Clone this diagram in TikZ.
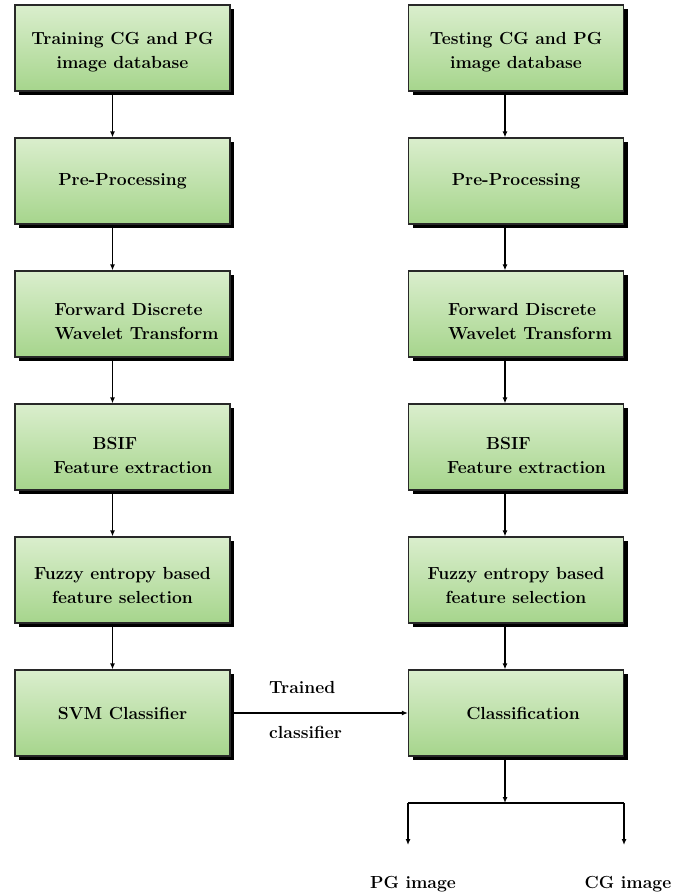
\documentclass[tikz,border=0pt]{standalone}
\usepackage{xcolor}
\usepackage{tikz}
\usetikzlibrary{arrows.meta}
\usetikzlibrary{shadows}
\definecolor{boxtop}{RGB}{218,238,205}
\definecolor{boxbottom}{RGB}{166,213,140}
\definecolor{boxline}{RGB}{40,40,40}
\tikzset{
stage/.style = { rectangle, draw = boxline, line width = 1.2pt, top color = boxtop, bottom color = boxbottom, minimum width = 215pt, minimum height = 86pt, inner sep = 0pt, align = center, font = \bfseries\fontsize{17.5}{24}\selectfont, drop shadow = {shadow xshift = 4pt, shadow yshift = -4pt, opacity = 1, fill = black} },
flow/.style = { draw = black, line width = 1.3pt, -{Latex[length = 6pt, width = 5pt]} },
tag/.style = { font = \bfseries\fontsize{17.5}{20}\selectfont, inner sep = 0pt },
}

\begin{document}
\begin{tikzpicture}[x = 1pt, y = -1pt]
    \useasboundingbox (0, 0) rectangle (686, 894);
    % training side
    \node[stage] (train db) at (122.5, 48) {\rule{0pt}{20pt}Training CG and PG\\image database};
    \node[stage] (train pre) at (122.5, 181) {Pre-Processing};
    \node[stage, align = left] (train dwt) at (122.5, 314) {\rule{0pt}{28pt}\hspace*{28pt}Forward Discrete\\\hspace*{28pt}Wavelet Transform};
    \node[stage, align = left] (train bsif) at (122.5, 447) {\rule{0pt}{30pt}\hspace*{60pt}BSIF\\\hspace*{21pt}Feature extraction};
    \node[stage] (train fuzzy) at (122.5, 580) {\rule{0pt}{24pt}Fuzzy entropy based\\feature selection};
    \node[stage] (train svm) at (122.5, 713) {SVM Classifier};
    % testing side
    \node[stage] (test db) at (516, 48) {\rule{0pt}{20pt}Testing CG and PG\\image database};
    \node[stage] (test pre) at (516, 181) {Pre-Processing};
    \node[stage, align = left] (test dwt) at (516, 314) {\rule{0pt}{28pt}\hspace*{28pt}Forward Discrete\\\hspace*{28pt}Wavelet Transform};
    \node[stage, align = left] (test bsif) at (516, 447) {\rule{0pt}{30pt}\hspace*{60pt}BSIF\\\hspace*{21pt}Feature extraction};
    \node[stage] (test fuzzy) at (516, 580) {\rule{0pt}{24pt}Fuzzy entropy based\\feature selection};
    \node[stage, align = left] (test class) at (516, 713) {\hspace*{14pt}Classification};
    \draw[flow] ([xshift = -10pt]train db.south) -- ([xshift = -10pt]train pre.north);
    \draw[flow] ([xshift = -10pt]train pre.south) -- ([xshift = -10pt]train dwt.north);
    \draw[flow] ([xshift = -10pt]train dwt.south) -- ([xshift = -10pt]train bsif.north);
    \draw[flow] ([xshift = -10pt]train bsif.south) -- ([xshift = -10pt]train fuzzy.north);
    \draw[flow] ([xshift = -10pt]train fuzzy.south) -- ([xshift = -10pt]train svm.north);
    \draw[flow] ([xshift = -11pt]test db.south) -- ([xshift = -11pt]test pre.north);
    \draw[flow] ([xshift = -11pt]test pre.south) -- ([xshift = -11pt]test dwt.north);
    \draw[flow] ([xshift = -11pt]test dwt.south) -- ([xshift = -11pt]test bsif.north);
    \draw[flow] ([xshift = -11pt]test bsif.south) -- ([xshift = -11pt]test fuzzy.north);
    \draw[flow] ([xshift = -11pt]test fuzzy.south) -- ([xshift = -11pt]test class.north);
    \draw[flow] (train svm.east) -- (test class.west);
    \node[tag, anchor = west] (trained) at (269, 687) {Trained};
    \node[tag, anchor = west] (classifier) at (269, 732) {classifier};
    % output branches
    \coordinate (split) at (505, 803);
    \coordinate (pg end) at (408, 845);
    \coordinate (cg end) at (624, 845);
    \draw[flow] ([xshift = -11pt]test class.south) -- (split);
    \draw[line width = 1.3pt] (pg end |- split) -- (cg end |- split);
    \draw[flow] (pg end |- split) -- (pg end);
    \draw[flow] (cg end |- split) -- (cg end);
    \node[tag] (pg) at (413, 884) {PG image};
    \node[tag] (cg) at (628, 884) {CG image};
\end{tikzpicture}
\end{document}
